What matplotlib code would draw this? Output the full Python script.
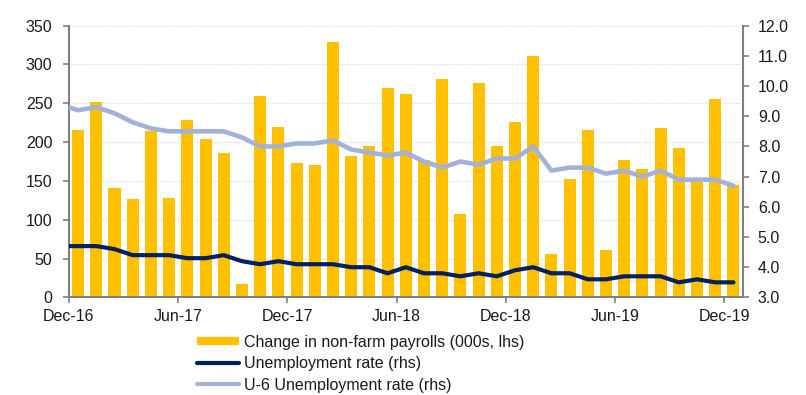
import numpy as np
import matplotlib
matplotlib.use("Agg")
import matplotlib.pyplot as plt
from matplotlib.lines import Line2D

plt.rcParams['font.family'] = ['Liberation Sans', 'DejaVu Sans']

# monthly data, Dec-16 .. Dec-19
payrolls = [215, 252, 141, 127, 214, 128, 229, 204, 186, 17, 260, 220,
            173, 171, 329, 182, 195, 270, 262, 177, 281, 107, 276, 195,
            226, 311, 56, 152, 216, 61, 177, 165, 218, 193, 151, 256, 145]

# lines start one month earlier (Nov-16), the first point is clipped by the axis
unemp = [4.7, 4.7, 4.7, 4.6, 4.4, 4.4, 4.4, 4.3, 4.3, 4.4, 4.2, 4.1, 4.2,
         4.1, 4.1, 4.1, 4.0, 4.0, 3.8, 4.0, 3.8, 3.8, 3.7, 3.8, 3.7,
         3.9, 4.0, 3.8, 3.8, 3.6, 3.6, 3.7, 3.7, 3.7, 3.5, 3.6, 3.5, 3.5]
u6 = [9.4, 9.2, 9.3, 9.1, 8.8, 8.6, 8.5, 8.5, 8.5, 8.5, 8.3, 8.0, 8.0,
      8.1, 8.1, 8.2, 7.9, 7.8, 7.7, 7.8, 7.5, 7.3, 7.5, 7.4, 7.6,
      7.6, 8.0, 7.2, 7.3, 7.3, 7.1, 7.2, 7.0, 7.2, 6.9, 6.9, 6.9, 6.7]

tick_labels = ['Dec-16', 'Jun-17', 'Dec-17', 'Jun-18', 'Dec-18', 'Jun-19', 'Dec-19']

GOLD = '#FFC000'
NAVY = '#002060'
LIGHT = '#A2B1D9'
GREY = '#808080'
TXT = '#1a1a1a'
FS = 11.5

x_bar = np.arange(len(payrolls))
x_line = np.arange(len(unemp)) - 1

fig = plt.figure(figsize=(8.06, 3.95), dpi=100)
ax = fig.add_axes([0.0856, 0.247, 0.8357, 0.688])
ax2 = ax.twinx()

ax.set_axisbelow(True)
ax.yaxis.grid(True, color='#CDD2DE', linestyle=(0, (1, 1.5)), linewidth=0.8)
ax.bar(x_bar, payrolls, width=0.66, color=GOLD, zorder=2)

ax2.plot(x_line, unemp, color=NAVY, lw=3.0, solid_capstyle='round',
         solid_joinstyle='round', zorder=3)
ax2.plot(x_line, u6, color=LIGHT, lw=3.3, solid_capstyle='round',
         solid_joinstyle='round', zorder=3)

ax.set_xlim(-0.5, len(payrolls) - 0.5)
ax.set_ylim(0, 350)
ax.set_yticks(np.arange(0, 351, 50))
ax2.set_ylim(3, 12)
ax2.set_yticks(np.arange(3, 12.1, 1))
ax2.set_yticklabels(['%.1f' % v for v in np.arange(3, 12.1, 1)])

ax.set_xticks(np.arange(-0.5, len(payrolls), 6))
ax.set_xticklabels(tick_labels)

for a in (ax, ax2):
    a.spines['top'].set_visible(False)
    for s in ('left', 'right', 'bottom'):
        a.spines[s].set_color(GREY)
        a.spines[s].set_linewidth(1.5)
    a.tick_params(colors=GREY, labelcolor=TXT, labelsize=FS, length=4, width=1.2)
ax.spines['right'].set_visible(False)
ax2.spines['left'].set_visible(False)
ax2.spines['bottom'].set_visible(False)
ax.tick_params(axis='y', pad=8)
ax2.tick_params(axis='y', pad=7)
ax.tick_params(axis='x', pad=4)

handles = [Line2D([], [], color=GOLD, lw=6, solid_capstyle='butt'),
           Line2D([], [], color=NAVY, lw=3, solid_capstyle='round'),
           Line2D([], [], color=LIGHT, lw=3, solid_capstyle='round')]
labels = ['Change in non-farm payrolls (000s, lhs)',
          'Unemployment rate (rhs)',
          'U-6 Unemployment rate (rhs)']
fig.legend(handles, labels, loc='upper left', bbox_to_anchor=(0.245, 0.153),
           frameon=False, fontsize=FS, handlelength=2.6, handletextpad=0.3,
           labelspacing=0.42, borderpad=0, borderaxespad=0, labelcolor=TXT)

fig.savefig('out.png', dpi=100)
